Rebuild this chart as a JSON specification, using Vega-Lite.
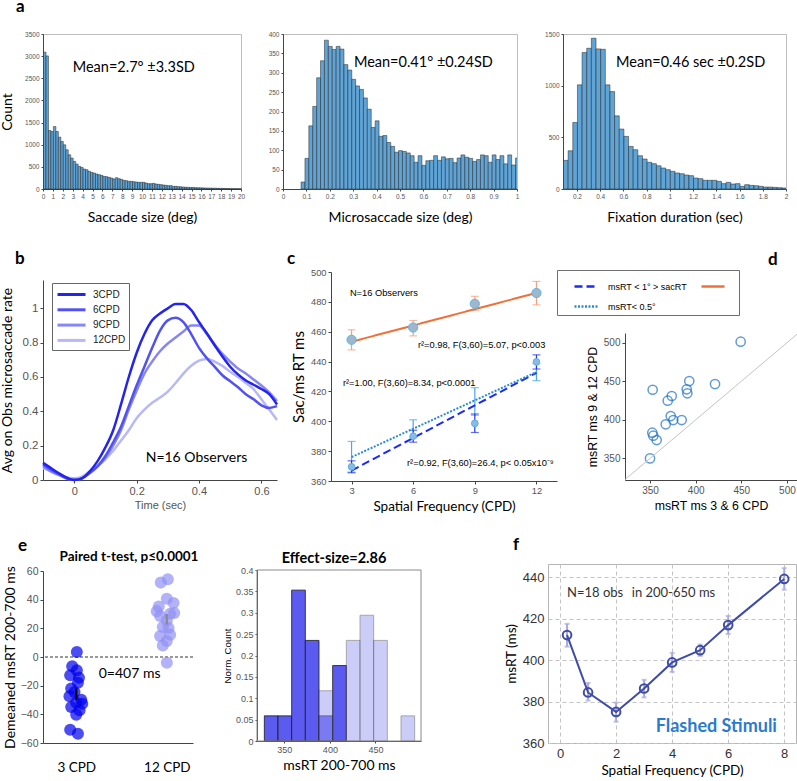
{
"$schema":"https://vega.github.io/schema/vega-lite/v6.json",
"autosize":{"type":"pad"},
"padding":{"left":-2,"top":-11,"right":0,"bottom":0},
"background":"white",
"datasets":{
 "cpts":[
  {"s":"sac","x":3,"m":454.6,"lo":447.8,"hi":461.3},
  {"s":"sac","x":6,"m":462.8,"lo":457.2,"hi":467.5},
  {"s":"sac","x":9,"m":478.7,"lo":474.3,"hi":483.7},
  {"s":"sac","x":12,"m":485.9,"lo":478,"hi":493.7},
  {"s":"ms1","x":3,"m":369.5,"lo":365.5,"hi":373.5},
  {"s":"ms1","x":6,"m":390,"lo":386,"hi":394},
  {"s":"ms1","x":9,"m":398.6,"lo":392.5,"hi":404.9},
  {"s":"ms1","x":12,"m":439.8,"lo":435,"hi":444.5},
  {"s":"ms05","x":3,"m":376,"lo":366,"hi":386.5},
  {"s":"ms05","x":6,"m":395,"lo":389,"hi":401},
  {"s":"ms05","x":9,"m":413,"lo":404,"hi":422.5},
  {"s":"ms05","x":12,"m":433,"lo":427.2,"hi":438.7}
 ]
},
"spacing":8,
"resolve":{"scale":{"color":"independent","strokeDash":"independent","opacity":"independent"},"legend":{"color":"independent","strokeDash":"independent"}},
"vconcat":[
 {"bounds":"flush","spacing":0,"resolve":{"scale":{"color":"independent","strokeDash":"independent"}},
  "hconcat":[
  {"width":1,"height":1,"data":{"values":[{}]},"mark":{"type":"point","opacity":0},
   "encoding":{
    "x":{"datum":0,"type":"quantitative","axis":{"title":" ","titleOpacity":0,"titleX":0,"titleY":197,"titleBaseline":"bottom","domain":false,"ticks":false,"labels":false,"grid":false}},
    "y":{"datum":0,"type":"quantitative","axis":{"title":" ","titleOpacity":0,"titleX":-43,"titleY":-45,"titleAngle":0,"titleAlign":"left","titleBaseline":"top","domain":false,"ticks":false,"labels":false,"grid":false}}}},
  {"width":1,"height":1,"data":{"values":[{}]},"mark":{"type":"point","opacity":0},"encoding":{},
   "title":{"text":"a","fontSize":17,"dx":-26,"offset":15.4}},
  {"width":198,"height":155,"view":{"stroke":"#bdbdbd"},
   "layer":[
    {"data":{"values":[{"b":0,"c":3090},{"b":0.25,"c":3005},{"b":0.5,"c":1320},{"b":0.75,"c":1298},{"b":1,"c":1410},{"b":1.25,"c":1298},{"b":1.5,"c":1170},{"b":1.75,"c":1073},{"b":2,"c":998},{"b":2.25,"c":885},{"b":2.5,"c":773},{"b":2.75,"c":698},{"b":3,"c":623},{"b":3.25,"c":563},{"b":3.5,"c":510},{"b":3.75,"c":488},{"b":4,"c":450},{"b":4.25,"c":435},{"b":4.5,"c":398},{"b":4.75,"c":375},{"b":5,"c":360},{"b":5.25,"c":338},{"b":5.5,"c":323},{"b":5.75,"c":308},{"b":6,"c":285},{"b":6.25,"c":278},{"b":6.5,"c":263},{"b":6.75,"c":248},{"b":7,"c":225},{"b":7.25,"c":255},{"b":7.5,"c":233},{"b":7.75,"c":218},{"b":8,"c":195},{"b":8.25,"c":188},{"b":8.5,"c":173},{"b":8.75,"c":173},{"b":9,"c":165},{"b":9.25,"c":158},{"b":9.5,"c":150},{"b":9.75,"c":150},{"b":10,"c":150},{"b":10.25,"c":135},{"b":10.5,"c":120},{"b":10.75,"c":120},{"b":11,"c":128},{"b":11.25,"c":113},{"b":11.5,"c":105},{"b":11.75,"c":98},{"b":12,"c":90},{"b":12.25,"c":83},{"b":12.5,"c":75},{"b":12.75,"c":75},{"b":13,"c":60},{"b":13.25,"c":60},{"b":13.5,"c":53},{"b":13.75,"c":50},{"b":14,"c":45},{"b":14.25,"c":40},{"b":14.5,"c":38},{"b":14.75,"c":35},{"b":15,"c":33},{"b":15.25,"c":30},{"b":15.5,"c":28},{"b":15.75,"c":27},{"b":16,"c":25},{"b":16.25,"c":22},{"b":16.5,"c":20},{"b":16.75,"c":20},{"b":17,"c":18},{"b":17.25,"c":17},{"b":17.5,"c":15},{"b":17.75,"c":14},{"b":18,"c":13},{"b":18.25,"c":12},{"b":18.5,"c":10},{"b":18.75,"c":9},{"b":19,"c":8},{"b":19.25,"c":8},{"b":19.5,"c":7},{"b":19.75,"c":6}]},
     "mark":{"type":"bar","fill":"#5fa4d6","stroke":"#222","strokeWidth":0.5,"binSpacing":0},
     "encoding":{
      "x":{"field":"b","type":"quantitative","bin":{"binned":true,"step":0.25},"scale":{"domain":[0,20],"nice":false,"zero":false},
           "axis":{"title":"Saccade size (deg)","values":[0,1,2,3,4,5,6,7,8,9,10,11,12,13,14,15,16,17,18,19,20],"tickCount":50,"format":"d","labelOverlap":false,"labelFontSize":6.5,"titleFontSize":14,"titlePadding":11,"tickSize":2}},
      "y":{"field":"c","type":"quantitative","scale":{"domain":[0,3500],"nice":false},
           "axis":{"title":"Count","values":[0,500,1000,1500,2000,2500,3000,3500],"tickCount":50,"format":"d","labelOverlap":false,"labelFontSize":6.5,"titleFontSize":14,"titlePadding":10,"tickSize":2}}}},
    {"data":{"values":[{}]},"mark":{"type":"text","font":"Lato","fontSize":14.5,"align":"left","baseline":"middle"},
     "encoding":{"x":{"datum":3},"y":{"datum":2735},"text":{"value":"Mean=2.7° ±3.3SD"}}}
   ]},
  {"width":42,"height":1,"data":{"values":[{}]},"mark":{"type":"point","opacity":0},"encoding":{}},
  {"width":234,"height":155,"view":{"stroke":"#bdbdbd"},
   "layer":[
    {"data":{"values":[{"b":0.075,"c":18},{"b":0.0917,"c":79},{"b":0.1083,"c":163},{"b":0.125,"c":213},{"b":0.1417,"c":287},{"b":0.1583,"c":331},{"b":0.175,"c":384},{"b":0.1917,"c":368},{"b":0.2083,"c":360},{"b":0.225,"c":368},{"b":0.2417,"c":361},{"b":0.2583,"c":321},{"b":0.275,"c":307},{"b":0.2917,"c":283},{"b":0.3083,"c":266},{"b":0.325,"c":257},{"b":0.3417,"c":235},{"b":0.3583,"c":206},{"b":0.375,"c":159},{"b":0.3917,"c":176},{"b":0.4083,"c":136},{"b":0.425,"c":138},{"b":0.4417,"c":120},{"b":0.4583,"c":110},{"b":0.475,"c":95},{"b":0.4917,"c":99},{"b":0.5083,"c":97},{"b":0.525,"c":93},{"b":0.5417,"c":86},{"b":0.5583,"c":69},{"b":0.575,"c":86},{"b":0.5917,"c":61},{"b":0.6083,"c":73},{"b":0.625,"c":74},{"b":0.6417,"c":86},{"b":0.6583,"c":74},{"b":0.675,"c":83},{"b":0.6917,"c":78},{"b":0.7083,"c":79},{"b":0.725,"c":68},{"b":0.7417,"c":80},{"b":0.7583,"c":88},{"b":0.775,"c":82},{"b":0.7917,"c":79},{"b":0.8083,"c":71},{"b":0.825,"c":76},{"b":0.8417,"c":88},{"b":0.8583,"c":86},{"b":0.875,"c":69},{"b":0.8917,"c":88},{"b":0.9083,"c":76},{"b":0.925,"c":86},{"b":0.9417,"c":65},{"b":0.9583,"c":88},{"b":0.975,"c":62},{"b":0.9917,"c":80}]},
     "mark":{"type":"bar","fill":"#5fa4d6","stroke":"#222","strokeWidth":0.5,"binSpacing":0,"clip":true},
     "encoding":{
      "x":{"field":"b","type":"quantitative","bin":{"binned":true,"step":0.016667},"scale":{"domain":[0,1],"nice":false,"zero":false},
           "axis":{"title":"Microsaccade size (deg)","values":[0,0.1,0.2,0.3,0.4,0.5,0.6,0.7,0.8,0.9,1],"tickCount":50,"format":".1~f","labelOverlap":false,"labelFontSize":6.5,"titleFontSize":14,"titlePadding":11,"tickSize":2}},
      "y":{"field":"c","type":"quantitative","scale":{"domain":[0,400],"nice":false},
           "axis":{"title":null,"values":[0,50,100,150,200,250,300,350,400],"tickCount":50,"format":"d","labelOverlap":false,"labelFontSize":6.5,"tickSize":2}}}},
    {"data":{"values":[{}]},"mark":{"type":"text","font":"Lato","fontSize":14.5,"align":"left","baseline":"middle"},
     "encoding":{"x":{"datum":0.303},"y":{"datum":324.6},"text":{"value":"Mean=0.41° ±0.24SD"}}}
   ]},
  {"width":46,"height":1,"data":{"values":[{}]},"mark":{"type":"point","opacity":0},"encoding":{}},
  {"width":223,"height":155,"view":{"stroke":"#bdbdbd"},
   "layer":[
    {"data":{"values":[{"b":0.08,"c":277},{"b":0.12,"c":370},{"b":0.16,"c":644},{"b":0.2,"c":1008},{"b":0.24,"c":1320},{"b":0.28,"c":1362},{"b":0.32,"c":1459},{"b":0.36,"c":1356},{"b":0.4,"c":1352},{"b":0.44,"c":1008},{"b":0.48,"c":943},{"b":0.52,"c":708},{"b":0.56,"c":580},{"b":0.6,"c":509},{"b":0.64,"c":412},{"b":0.68,"c":380},{"b":0.72,"c":322},{"b":0.76,"c":290},{"b":0.8,"c":258},{"b":0.84,"c":245},{"b":0.88,"c":225},{"b":0.92,"c":203},{"b":0.96,"c":187},{"b":1,"c":171},{"b":1.04,"c":155},{"b":1.08,"c":148},{"b":1.12,"c":135},{"b":1.16,"c":129},{"b":1.2,"c":106},{"b":1.24,"c":100},{"b":1.28,"c":84},{"b":1.32,"c":84},{"b":1.36,"c":84},{"b":1.4,"c":74},{"b":1.44,"c":52},{"b":1.48,"c":64},{"b":1.52,"c":48},{"b":1.56,"c":52},{"b":1.6,"c":26},{"b":1.64,"c":42},{"b":1.68,"c":35},{"b":1.72,"c":32},{"b":1.76,"c":26},{"b":1.8,"c":19},{"b":1.84,"c":19},{"b":1.88,"c":16},{"b":1.92,"c":13},{"b":1.96,"c":10}]},
     "mark":{"type":"bar","fill":"#5fa4d6","stroke":"#222","strokeWidth":0.5,"binSpacing":0,"clip":true},
     "encoding":{
      "x":{"field":"b","type":"quantitative","bin":{"binned":true,"step":0.04},"scale":{"domain":[0.08,2],"nice":false,"zero":false},
           "axis":{"title":"Fixation duration (sec)","values":[0.2,0.4,0.6,0.8,1,1.2,1.4,1.6,1.8,2],"tickCount":50,"format":".1~f","labelOverlap":false,"labelFontSize":6.5,"titleFontSize":14,"titlePadding":11,"tickSize":2}},
      "y":{"field":"c","type":"quantitative","scale":{"domain":[0,1500],"nice":false},
           "axis":{"title":null,"values":[0,500,1000,1500],"tickCount":50,"format":"d","labelOverlap":false,"labelFontSize":6.5,"tickSize":2}}}},
    {"data":{"values":[{}]},"mark":{"type":"text","font":"Lato","fontSize":14.5,"align":"left","baseline":"middle"},
     "encoding":{"x":{"datum":0.537},"y":{"datum":1217},"text":{"value":"Mean=0.46 sec ±0.2SD"}}}
   ]}
 ]},
 {"bounds":"flush","spacing":0,"resolve":{"scale":{"color":"independent","strokeDash":"independent"},"legend":{"color":"independent","strokeDash":"independent"}},
  "hconcat":[
  {"width":1,"height":1,"data":{"values":[{}]},"mark":{"type":"point","opacity":0},
   "encoding":{
    "x":{"datum":0,"type":"quantitative","axis":{"title":" ","titleOpacity":0,"titleX":0,"titleY":251,"titleBaseline":"bottom","domain":false,"ticks":false,"labels":false,"grid":false}},
    "y":{"datum":0,"type":"quantitative","axis":{"title":" ","titleOpacity":0,"titleX":-43,"titleY":-30,"titleAngle":0,"titleAlign":"left","titleBaseline":"top","domain":false,"ticks":false,"labels":false,"grid":false}}}},
  {"width":1,"height":1,"data":{"values":[{}]},"mark":{"type":"point","opacity":0},"encoding":{},
   "title":{"text":"b","fontSize":17,"dx":-27,"offset":-0.6}},
  {"width":234,"height":213,
   "layer":[
    {"data":{"values":[
      {"t":-0.1,"3CPD":0.1,"6CPD":0.09,"9CPD":0.08,"12CPD":0.07},
      {"t":-0.075,"3CPD":0.07,"6CPD":0.06,"9CPD":0.05,"12CPD":0.05},
      {"t":-0.05,"3CPD":0.04,"6CPD":0.035,"9CPD":0.03,"12CPD":0.03},
      {"t":-0.025,"3CPD":0.015,"6CPD":0.01,"9CPD":0.01,"12CPD":0.015},
      {"t":0,"3CPD":0.0,"6CPD":0.0,"9CPD":0.0,"12CPD":0.01},
      {"t":0.025,"3CPD":0.01,"6CPD":0.01,"9CPD":0.01,"12CPD":0.02},
      {"t":0.05,"3CPD":0.05,"6CPD":0.04,"9CPD":0.04,"12CPD":0.05},
      {"t":0.075,"3CPD":0.11,"6CPD":0.08,"9CPD":0.08,"12CPD":0.08},
      {"t":0.1,"3CPD":0.19,"6CPD":0.14,"9CPD":0.13,"12CPD":0.12},
      {"t":0.125,"3CPD":0.29,"6CPD":0.22,"9CPD":0.2,"12CPD":0.17},
      {"t":0.15,"3CPD":0.44,"6CPD":0.31,"9CPD":0.29,"12CPD":0.23},
      {"t":0.175,"3CPD":0.6,"6CPD":0.43,"9CPD":0.41,"12CPD":0.29},
      {"t":0.2,"3CPD":0.74,"6CPD":0.55,"9CPD":0.52,"12CPD":0.36},
      {"t":0.225,"3CPD":0.85,"6CPD":0.66,"9CPD":0.62,"12CPD":0.41},
      {"t":0.25,"3CPD":0.93,"6CPD":0.77,"9CPD":0.69,"12CPD":0.45},
      {"t":0.275,"3CPD":0.97,"6CPD":0.87,"9CPD":0.75,"12CPD":0.48},
      {"t":0.3,"3CPD":1.0,"6CPD":0.93,"9CPD":0.795,"12CPD":0.515},
      {"t":0.325,"3CPD":1.025,"6CPD":0.945,"9CPD":0.83,"12CPD":0.565},
      {"t":0.35,"3CPD":1.025,"6CPD":0.92,"9CPD":0.865,"12CPD":0.62},
      {"t":0.375,"3CPD":0.99,"6CPD":0.85,"9CPD":0.9,"12CPD":0.665},
      {"t":0.4,"3CPD":0.92,"6CPD":0.77,"9CPD":0.9,"12CPD":0.695},
      {"t":0.425,"3CPD":0.855,"6CPD":0.71,"9CPD":0.85,"12CPD":0.705},
      {"t":0.45,"3CPD":0.785,"6CPD":0.66,"9CPD":0.79,"12CPD":0.69},
      {"t":0.475,"3CPD":0.72,"6CPD":0.61,"9CPD":0.735,"12CPD":0.665},
      {"t":0.5,"3CPD":0.66,"6CPD":0.575,"9CPD":0.69,"12CPD":0.63},
      {"t":0.525,"3CPD":0.615,"6CPD":0.54,"9CPD":0.65,"12CPD":0.6},
      {"t":0.55,"3CPD":0.58,"6CPD":0.5,"9CPD":0.62,"12CPD":0.565},
      {"t":0.575,"3CPD":0.555,"6CPD":0.47,"9CPD":0.585,"12CPD":0.53},
      {"t":0.6,"3CPD":0.53,"6CPD":0.435,"9CPD":0.55,"12CPD":0.47},
      {"t":0.625,"3CPD":0.5,"6CPD":0.42,"9CPD":0.51,"12CPD":0.41},
      {"t":0.65,"3CPD":0.44,"6CPD":0.43,"9CPD":0.46,"12CPD":0.35}]},
     "transform":[{"fold":["12CPD","9CPD","6CPD","3CPD"],"as":["k","v"]}],
     "mark":{"type":"line","strokeWidth":2.5,"interpolate":"monotone"},
     "encoding":{
      "x":{"field":"t","type":"quantitative","scale":{"domain":[-0.1,0.65],"nice":false,"zero":false},
           "axis":{"values":[0,0.2,0.4,0.6],"tickCount":50,"format":".1~f","offset":-3,"title":"Time (sec)","titleFont":"Liberation Sans","titleFontSize":11,"titleColor":"#555","labelFontSize":11,"titlePadding":3}},
      "y":{"field":"v","type":"quantitative","scale":{"domain":[0,1.165],"nice":false,"range":[210,10]},
           "axis":{"values":[0,0.2,0.4,0.6,0.8,1],"tickCount":50,"format":".1~f","labelOverlap":false,"title":"Avg on Obs microsaccade rate","titleFontSize":14,"labelFontSize":11.5,"titlePadding":8}},
      "color":{"field":"k","type":"nominal","scale":{"domain":["3CPD","6CPD","9CPD","12CPD"],"range":["#2424f0","#5252f2","#8686f4","#b8b8f8"]},
               "legend":{"title":null,"orient":"none","legendX":9,"legendY":13,"symbolType":"M-2,0H2","symbolSize":196,"symbolStrokeWidth":3,"symbolOffset":8,"labelOffset":13,"labelFontSize":10,"labelColor":"#222","strokeColor":"#666","fillColor":"white","padding":3,"rowPadding":0.3}}}},
    {"data":{"values":[{}]},"mark":{"type":"text","font":"Lato","fontSize":14,"align":"center","baseline":"middle"},
     "encoding":{"x":{"datum":0.392},"y":{"datum":0.128},"text":{"value":"N=16 Observers"}}}
   ]},
  {"width":54,"height":1,"data":{"values":[{}]},"mark":{"type":"point","opacity":0},"encoding":{},
   "title":{"text":"c","fontSize":17,"dx":10,"offset":-0.6}},
  {"width":226,"height":213,
   "layer":[
    {"data":{"name":"cpts"},"transform":[{"filter":"datum.s=='sac'"}],"mark":{"type":"errorbar","ticks":true,"size":8,"thickness":1.2,"color":"#f4a07c"},
     "encoding":{"x":{"field":"x","type":"quantitative","axis":{"title":"Spatial Frequency (CPD)"}},"y":{"field":"lo","type":"quantitative","axis":{"title":"Sac/ms RT ms"}},"y2":{"field":"hi"}}},
    {"data":{"name":"cpts"},"transform":[{"filter":"datum.s=='ms05'"}],"mark":{"type":"errorbar","ticks":true,"size":8,"thickness":1.2,"color":"#4aa8e8"},
     "encoding":{"x":{"field":"x","type":"quantitative","axis":{"title":"Spatial Frequency (CPD)"}},"y":{"field":"lo","type":"quantitative","axis":{"title":"Sac/ms RT ms"}},"y2":{"field":"hi"}}},
    {"data":{"name":"cpts"},"transform":[{"filter":"datum.s=='ms1'"}],"mark":{"type":"errorbar","ticks":true,"size":8,"thickness":1.2,"color":"#2233ee"},
     "encoding":{"x":{"field":"x","type":"quantitative","axis":{"title":"Spatial Frequency (CPD)"}},"y":{"field":"lo","type":"quantitative","axis":{"title":"Sac/ms RT ms"}},"y2":{"field":"hi"}}},
    {"data":{"values":[{"s":"sac","x":3,"y":453.3},{"s":"sac","x":12,"y":486},{"s":"ms1","x":3,"y":367},{"s":"ms1","x":12,"y":432.5},{"s":"ms05","x":3,"y":376},{"s":"ms05","x":12,"y":433}]},
     "mark":{"type":"line","strokeWidth":2},
     "encoding":{
      "x":{"field":"x","type":"quantitative","scale":{"domain":[2,13],"nice":false,"zero":false},
           "axis":{"values":[3,6,9,12],"tickCount":50,"format":"d","offset":-2,"title":"Spatial Frequency (CPD)","titleFontSize":13.5,"labelFontSize":9.3,"titlePadding":4}},
      "y":{"field":"y","type":"quantitative","scale":{"domain":[360,500],"nice":false,"zero":false,"range":[211,2]},
           "axis":{"values":[360,380,400,420,440,460,480,500],"tickCount":50,"format":"d","labelOverlap":false,"title":"Sac/ms RT ms","titleFontSize":15,"labelFontSize":9.3,"titlePadding":4}},
      "color":{"field":"s","type":"nominal","scale":{"domain":["ms1","ms05","sac"],"range":["#1a2aff","#2a8ad4","#f0703a"]},
               "legend":{"title":null,"orient":"none","legendX":226,"legendY":0,"columns":2,"symbolType":"stroke","symbolSize":530,"symbolStrokeWidth":2.5,"labelFontSize":9,"labelColor":"#000","labelOffset":9,"columnPadding":0,"rowPadding":2,"padding":3.5,"symbolOffset":12.5,"strokeColor":"#6e6e6e","fillColor":"white",
                         "labelExpr":"datum.label == 'ms1' ? 'msRT < 1° > sacRT' : datum.label == 'ms05' ? 'msRT< 0.5°' : ''"}},
      "strokeDash":{"field":"s","type":"nominal","scale":{"domain":["ms1","ms05","sac"],"range":[[8,4],[2,1.5],[1,0]]},
               "legend":{"title":null,"orient":"none","legendX":226,"legendY":0,"columns":2,"symbolType":"stroke","symbolSize":530,"symbolStrokeWidth":2.5,"labelFontSize":9,"labelColor":"#000","labelOffset":9,"columnPadding":0,"rowPadding":2,"padding":3.5,"symbolOffset":12.5,"strokeColor":"#6e6e6e","fillColor":"white",
                         "labelExpr":"datum.label == 'ms1' ? 'msRT < 1° > sacRT' : datum.label == 'ms05' ? 'msRT< 0.5°' : ''"}}}},
    {"data":{"name":"cpts"},"transform":[{"filter":"datum.s=='sac'"}],"mark":{"type":"point","shape":"circle","filled":true,"fill":"#9fb6cc","stroke":"#5ab8ea","strokeWidth":1,"size":85,"opacity":1},
     "encoding":{"x":{"field":"x","type":"quantitative"},"y":{"field":"m","type":"quantitative"}}},
    {"data":{"name":"cpts"},"transform":[{"filter":"datum.s=='ms1'"}],"mark":{"type":"point","shape":"circle","filled":true,"fill":"#8cbbe0","stroke":"#5ab0ea","strokeWidth":1,"size":45,"opacity":1},
     "encoding":{"x":{"field":"x","type":"quantitative"},"y":{"field":"m","type":"quantitative"}}},
    {"data":{"values":[{}]},"mark":{"type":"text","font":"Liberation Sans","fontSize":9.3,"align":"left","baseline":"middle"},
     "encoding":{"x":{"datum":2.92},"y":{"datum":486.1},"text":{"value":"N=16 Observers"}}},
    {"data":{"values":[{}]},"mark":{"type":"text","font":"Liberation Sans","fontSize":9.3,"align":"left","baseline":"middle"},
     "encoding":{"x":{"datum":6.23},"y":{"datum":451.1},"text":{"value":"r²=0.98, F(3,60)=5.07, p<0.003"}}},
    {"data":{"values":[{}]},"mark":{"type":"text","font":"Liberation Sans","fontSize":9.3,"align":"left","baseline":"middle"},
     "encoding":{"x":{"datum":2.58},"y":{"datum":425.9},"text":{"value":"r²=1.00, F(3,60)=8.34, p<0.0001"}}},
    {"data":{"values":[{}]},"mark":{"type":"text","font":"Liberation Sans","fontSize":9.3,"align":"left","baseline":"middle"},
     "encoding":{"x":{"datum":5.7},"y":{"datum":372.3},"text":{"value":"r²=0.92, F(3,60)=26.4, p< 0.05x10⁻⁹"}}}
   ]},
  {"width":68,"height":1,"data":{"values":[{}]},"mark":{"type":"point","opacity":0},"encoding":{},
   "title":{"text":"d","fontSize":17,"dx":211,"offset":-1.6}},
  {"width":172,"height":213,
   "layer":[
    {"data":{"values":[{"x":350,"y":350},{"x":352.9,"y":439},{"x":352.5,"y":383.3},{"x":353.6,"y":379.4},{"x":357.3,"y":373.8},{"x":367.2,"y":394.2},{"x":369.4,"y":424.8},{"x":373.8,"y":430.9},{"x":372.7,"y":404.9},{"x":375.5,"y":399.7},{"x":384.7,"y":399.7},{"x":390.9,"y":434.4},{"x":390.2,"y":439.6},{"x":393,"y":450.3},{"x":421.2,"y":446.4},{"x":449.3,"y":501.3}]},
     "mark":{"type":"point","shape":"circle","filled":false,"color":"#1f72c4","size":85,"strokeWidth":1.5},
     "encoding":{
      "x":{"field":"x","type":"quantitative","scale":{"domain":[322.6,511],"nice":false,"zero":false},
           "axis":{"values":[350,400,450,500],"tickCount":50,"format":"d","offset":-3,"title":"msRT ms 3 & 6 CPD","titleFont":"Liberation Sans","titleFontSize":12.3,"labelFontSize":10,"titlePadding":4}},
      "y":{"field":"y","type":"quantitative","scale":{"domain":[322,512.6],"nice":false,"zero":false,"range":[210,63]},
           "axis":{"values":[350,400,450,500],"tickCount":50,"format":"d","labelOverlap":false,"title":"msRT ms 9 & 12 CPD","titleFont":"Liberation Sans","titleFontSize":12.3,"labelFontSize":10,"titlePadding":4}}}},
    {"data":{"values":[{}]},"mark":{"type":"rule","color":"#c4c4c4","strokeWidth":1},
     "encoding":{"x":{"datum":322.6,"type":"quantitative"},"y":{"datum":322.6,"type":"quantitative"},"x2":{"datum":511},"y2":{"datum":511}}}
   ]}
 ]},
 {"bounds":"flush","spacing":0,"resolve":{"scale":{"color":"independent"}},
  "hconcat":[
  {"width":1,"height":1,"data":{"values":[{}]},"mark":{"type":"point","opacity":0},
   "encoding":{
    "y":{"datum":0,"type":"quantitative","axis":{"title":" ","titleOpacity":0,"titleX":-43,"titleY":-34,"titleAngle":0,"titleAlign":"left","titleBaseline":"top","domain":false,"ticks":false,"labels":false,"grid":false}}}},
  {"width":1,"height":1,"data":{"values":[{}]},"mark":{"type":"point","opacity":0},"encoding":{},
   "title":{"text":"e","fontSize":17,"dx":-24,"offset":6.4}},
  {"width":150,"height":179,
   "title":{"text":"Paired t-test, p≤0.0001","fontSize":13.5,"anchor":"middle","dx":11,"offset":1},
   "layer":[
    {"data":{"values":[{}]},"mark":{"type":"rule","color":"#333","strokeDash":[3,2],"strokeWidth":1},
     "encoding":{"y":{"datum":0,"type":"quantitative"}}},
    {"data":{"values":[
      {"g":"3","x":3.06,"y":3.5},{"g":"3","x":2.6,"y":-6.5},{"g":"3","x":3.06,"y":-9.3},{"g":"3","x":2.4,"y":-12.8},{"g":"3","x":3.27,"y":-14.4},{"g":"3","x":3.17,"y":-17.9},{"g":"3","x":2.5,"y":-22},{"g":"3","x":2.83,"y":-24.4},{"g":"3","x":2.33,"y":-27.4},{"g":"3","x":3.5,"y":-29.8},{"g":"3","x":3.0,"y":-32},{"g":"3","x":3.6,"y":-32.6},{"g":"3","x":2.5,"y":-34.9},{"g":"3","x":3.33,"y":-37.2},{"g":"3","x":3.0,"y":-40.2},{"g":"3","x":2.4,"y":-50.7},{"g":"3","x":3.17,"y":-53.5},
      {"g":"12","x":11.4,"y":51.9},{"g":"12","x":12.1,"y":54.2},{"g":"12","x":11.2,"y":35.3},{"g":"12","x":12.0,"y":40.7},{"g":"12","x":12.67,"y":37.7},{"g":"12","x":11.0,"y":32},{"g":"12","x":11.33,"y":28.6},{"g":"12","x":12.33,"y":30.2},{"g":"12","x":12.73,"y":30.7},{"g":"12","x":12.0,"y":25.5},{"g":"12","x":11.6,"y":20.9},{"g":"12","x":12.17,"y":20.2},{"g":"12","x":11.33,"y":14.7},{"g":"12","x":12.33,"y":15.6},{"g":"12","x":12.0,"y":11.2},{"g":"12","x":11.6,"y":8.1},{"g":"12","x":12.0,"y":-4}]},
     "mark":{"type":"circle","size":145,"opacity":0.7},
     "encoding":{
      "x":{"field":"x","type":"quantitative","scale":{"domain":[-0.3,14.6],"nice":false,"zero":false},
           "axis":{"values":[3,12],"tickCount":50,"labelExpr":"datum.value == 3 ? '3 CPD' : '12 CPD'","ticks":false,"labelFont":"Lato","labelFontSize":13.5,"labelColor":"#000","labelPadding":17,"title":null}},
      "y":{"field":"y","type":"quantitative","scale":{"domain":[-60,60],"nice":false,"range":[179,7]},
           "axis":{"values":[-60,-40,-20,0,20,40,60],"tickCount":50,"format":"d","labelOverlap":false,"title":"Demeaned msRT 200-700 ms","titleFontSize":14,"labelFontSize":10.5,"titlePadding":3}},
      "color":{"field":"g","type":"nominal","scale":{"domain":["3","12"],"range":["#0000ee","#9292f5"]},"legend":null}}},
    {"data":{"values":[{}]},"mark":{"type":"rule","color":"#000","strokeWidth":2.5},
     "encoding":{"x":{"datum":3},"y":{"datum":-30},"y2":{"datum":-22}}},
    {"data":{"values":[{}]},"mark":{"type":"rule","color":"#8c8c8c","strokeWidth":2.5},
     "encoding":{"x":{"datum":12},"y":{"datum":22.8},"y2":{"datum":30}}},
    {"data":{"values":[{}]},"mark":{"type":"text","font":"Lato","fontSize":14,"align":"center","baseline":"middle"},
     "encoding":{"x":{"datum":8.3},"y":{"datum":-11.6},"text":{"value":"0=407 ms"}}}
   ]},
  {"width":64,"height":1,"data":{"values":[{}]},"mark":{"type":"point","opacity":0},"encoding":{}},
  {"width":164,"height":179,
   "title":{"text":"Effect-size=2.86","fontSize":14.5,"anchor":"middle","dx":-5,"offset":-2},
   "layer":[
    {"data":{"values":[{"b":327.5,"n":0.0588},{"b":342.5,"n":0.0588},{"b":357.5,"n":0.3529},{"b":372.5,"n":0.2353},{"b":387.5,"n":0.0588},{"b":402.5,"n":0.1765}]},
     "mark":{"type":"bar","color":"#5b5bef","stroke":"#1a1a1a","strokeWidth":0.8,"binSpacing":0},
     "encoding":{
      "x":{"field":"b","type":"quantitative","bin":{"binned":true,"step":15},"scale":{"domain":[320,500],"nice":false,"zero":false},
           "axis":{"values":[350,400,450],"tickCount":50,"format":"d","offset":-2,"title":"msRT 200-700 ms","titleFontSize":14,"labelFontSize":9,"titlePadding":4,"tickSize":2}},
      "y":{"field":"n","type":"quantitative","scale":{"domain":[0,0.4],"nice":false,"range":[177,6]},
           "axis":{"values":[0,0.05,0.1,0.15,0.2,0.25,0.3,0.35,0.4],"tickCount":50,"format":".2~f","labelOverlap":false,"title":"Norm. Count","titleFont":"Liberation Sans","titleFontSize":9.7,"labelFontSize":9,"titlePadding":3,"tickSize":2}}}},
    {"data":{"values":[{"b":387.5,"n":0.1176},{"b":417.5,"n":0.2353},{"b":432.5,"n":0.2941},{"b":447.5,"n":0.2353},{"b":477.5,"n":0.0588}]},
     "mark":{"type":"bar","color":"#9a9af5","opacity":0.5,"stroke":"#333","strokeWidth":0.8,"binSpacing":0},
     "encoding":{
      "x":{"field":"b","type":"quantitative","bin":{"binned":true,"step":15}},
      "y":{"field":"n","type":"quantitative"}}},
    {"data":{"values":[{}]},"mark":{"type":"rect","fill":null,"stroke":"#8a8a8a","strokeWidth":1},
     "encoding":{"x":{"datum":320},"x2":{"datum":500},"y":{"datum":0},"y2":{"datum":0.4}}}
   ]},
  {"width":127,"height":1,"data":{"values":[{}]},"mark":{"type":"point","opacity":0},"encoding":{},
   "title":{"text":"f","fontSize":17,"dx":92,"offset":7.4}},
  {"width":248,"height":179,"view":{"stroke":"#b5b5b5"},
   "layer":[
    {"data":{"values":[{"x":0.25,"y":412.1,"lo":406.5,"hi":417.5},{"x":1,"y":384.4,"lo":380.5,"hi":389},{"x":2,"y":375,"lo":370.3,"hi":379.5},{"x":3,"y":386.3,"lo":382,"hi":390.5},{"x":4,"y":398.9,"lo":394.3,"hi":403.5},{"x":5,"y":404.8,"lo":402,"hi":407.5},{"x":6,"y":416.9,"lo":412.6,"hi":421.3},{"x":8,"y":439.2,"lo":434,"hi":444.4}]},
     "layer":[
      {"mark":{"type":"errorbar","ticks":true,"size":5,"thickness":2,"color":"#a9a9dc"},
       "encoding":{
        "x":{"field":"x","type":"quantitative","scale":{"domain":[-0.43,8.42],"nice":false,"zero":false},
             "axis":{"values":[0,2,4,6,8],"tickCount":50,"format":"d","grid":true,"gridDash":[4,3],"gridColor":"#c4c4c4","domain":false,"tickSize":0,"title":"Spatial Frequency (CPD)","titleFontSize":13.5,"labelFontSize":13,"labelColor":"#333","titlePadding":3,"labelPadding":4}},
        "y":{"field":"lo","type":"quantitative","scale":{"domain":[360,446.4],"nice":false,"zero":false},
             "axis":{"values":[360,380,400,420,440],"tickCount":50,"format":"d","labelOverlap":false,"grid":true,"gridDash":[4,3],"gridColor":"#c4c4c4","domain":false,"tickSize":0,"title":"msRT (ms)","titleFontSize":13.5,"labelFontSize":13,"labelColor":"#333","titlePadding":4,"labelPadding":4}},
        "y2":{"field":"hi"}}},
      {"mark":{"type":"line","color":"#3f4ca8","strokeWidth":2},
       "encoding":{"x":{"field":"x","type":"quantitative"},"y":{"field":"y","type":"quantitative"}}},
      {"mark":{"type":"point","shape":"circle","filled":false,"color":"#3f4ca8","size":75,"strokeWidth":2,"opacity":1},
       "encoding":{"x":{"field":"x","type":"quantitative"},"y":{"field":"y","type":"quantitative"}}}
     ]},
    {"data":{"values":[{}]},"mark":{"type":"text","font":"Lato","fontSize":13,"color":"#333","align":"left","baseline":"middle"},
     "encoding":{"x":{"datum":0.25},"y":{"datum":432.3},"text":{"value":"N=18 obs"}}},
    {"data":{"values":[{}]},"mark":{"type":"text","font":"Lato","fontSize":13,"color":"#333","align":"left","baseline":"middle"},
     "encoding":{"x":{"datum":2.56},"y":{"datum":432.3},"text":{"value":"in 200-650 ms"}}},
    {"data":{"values":[{}]},"mark":{"type":"text","font":"Lato","fontSize":18,"fontWeight":"bold","color":"#2a7bd0","align":"right","baseline":"middle"},
     "encoding":{"x":{"datum":7.74},"y":{"datum":367.7},"text":{"value":"Flashed Stimuli"}}}
   ]}
 ]}
],
"config":{
 "view":{"stroke":null},
 "font":"Liberation Sans",
 "axis":{"labelFont":"Liberation Sans","titleFont":"Lato","titleFontWeight":"normal","titleColor":"#000","labelColor":"#555","domainColor":"#444","tickColor":"#444","grid":false,"tickSize":3,"labelPadding":2,"labelOverlap":false,"labelFlush":false,"labelBound":false},
 "title":{"font":"Lato","fontWeight":"bold","color":"#000","anchor":"start","frame":"group","baseline":"alphabetic"},
 "legend":{"labelFont":"Liberation Sans"}
}
}
